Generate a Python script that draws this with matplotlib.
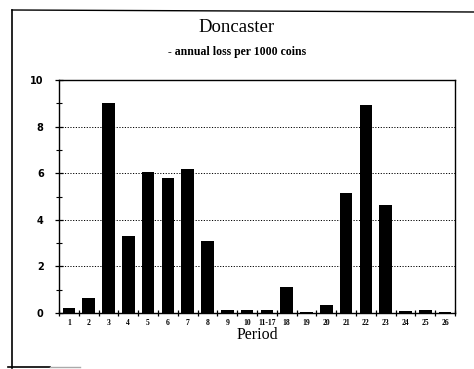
import matplotlib
matplotlib.use("Agg")
import matplotlib.pyplot as plt
from matplotlib.lines import Line2D
import numpy as np

periods = ["1", "2", "3", "4", "5", "6", "7", "8", "9", "10", "11-17", "18",
           "19", "20", "21", "22", "23", "24", "25", "26"]
loss = [0.22, 0.65, 9.0, 3.3, 6.05, 5.8, 6.2, 3.1, 0.13, 0.13, 0.13, 1.1,
        0.03, 0.33, 5.15, 8.93, 4.62, 0.07, 0.11, 0.03]
y_ticks = [0, 2, 4, 6, 8, 10]

serif = ["Liberation Serif", "DejaVu Serif"]

fig = plt.figure(figsize=(4.74, 3.69), dpi=100)
ax = fig.add_axes([59 / 474, 1 - 313 / 369, (455 - 59) / 474, (313 - 80) / 369])

x = np.arange(len(periods))
ax.bar(x, loss, width=0.64, color="black", zorder=3)

ax.set_xlim(-0.5, len(periods) - 0.5)
ax.set_ylim(0, 10)

# category labels sit under the bars; tick marks fall on slot boundaries
ax.set_xticks(x)
ax.set_xticklabels(periods, fontsize=5.5, fontweight="bold", family=serif)
ax.set_xticks(np.arange(len(periods) + 1) - 0.5, minor=True)
ax.tick_params(axis="x", which="major", length=0, pad=4)
ax.tick_params(axis="x", which="minor", direction="inout", length=5, width=0.9)

ax.set_yticks(y_ticks)
ax.set_yticklabels([str(v) for v in y_ticks], fontsize=7, fontweight="bold",
                   family=["DejaVu Sans"])
ax.set_yticks([1, 3, 5, 7, 9], minor=True)
ax.tick_params(axis="y", which="major", direction="inout", length=6, width=0.9, pad=8)
ax.tick_params(axis="y", which="minor", direction="inout", length=4, width=0.8)

for v in y_ticks[1:-1]:
    ax.axhline(v, color="black", linestyle=(0, (1.2, 1.6)), linewidth=0.7, zorder=1)

for s in ax.spines.values():
    s.set_linewidth(1.0)
    s.set_color("black")

ax.set_xlabel("Period", fontsize=11.5, family=serif, labelpad=0)

fig.text(0.5, 1 - 28 / 369, "Doncaster", ha="center", va="center",
         fontsize=13.5, family=serif)
fig.text(0.5, 1 - 52 / 369, "- annual loss per 1000 coins", ha="center",
         va="center", fontsize=8.5, fontweight="bold", family=serif)

# page frame around the chart
fig.add_artist(Line2D([12 / 474, 12 / 474], [1 - 368 / 369, 1 - 10 / 369],
                      transform=fig.transFigure, color="black", linewidth=1.2))
fig.add_artist(Line2D([12 / 474, 1.0], [1 - 10 / 369, 1 - 12 / 369],
                      transform=fig.transFigure, color="black", linewidth=1.0))
fig.add_artist(Line2D([8 / 474, 50 / 474], [1 - 367 / 369, 1 - 367 / 369],
                      transform=fig.transFigure, color="black", linewidth=1.2))
fig.add_artist(Line2D([50 / 474, 80 / 474], [1 - 367 / 369, 1 - 367 / 369],
                      transform=fig.transFigure, color="#aaaaaa", linewidth=1.0))

fig.savefig("out.png", dpi=100, facecolor="white")
